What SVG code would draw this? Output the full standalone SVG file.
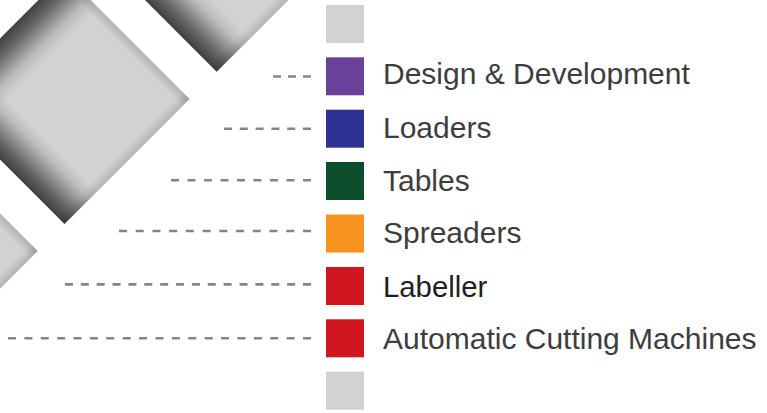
<svg xmlns="http://www.w3.org/2000/svg" width="767" height="413" viewBox="0 0 767 413">
  <style>
    .tile { fill: #d1d2d4; }
    .lbl { font-family: "Liberation Sans", Arial, sans-serif; font-size: 30px; fill: #3d3d3d; }
    .lbl.strong { font-size: 29.3px; fill: #1f1f1f; }
    .dash { stroke: #858585; stroke-width: 2.6; fill: none; }
    .sq { stroke: none; }
  </style>
  <defs>
    <linearGradient id="gx" x1="0" y1="0" x2="1" y2="0">
      <stop offset="0" stop-color="#000" stop-opacity="0.7"/>
      <stop offset="0.08" stop-color="#000" stop-opacity="0.5"/>
      <stop offset="0.2" stop-color="#000" stop-opacity="0.1"/>
      <stop offset="0.27" stop-color="#000" stop-opacity="0"/>
      <stop offset="0.94" stop-color="#000" stop-opacity="0"/>
      <stop offset="1" stop-color="#000" stop-opacity="0.15"/>
    </linearGradient>
    <linearGradient id="gy" x1="0" y1="1" x2="0" y2="0">
      <stop offset="0" stop-color="#000" stop-opacity="0.7"/>
      <stop offset="0.08" stop-color="#000" stop-opacity="0.5"/>
      <stop offset="0.2" stop-color="#000" stop-opacity="0.1"/>
      <stop offset="0.27" stop-color="#000" stop-opacity="0"/>
      <stop offset="0.94" stop-color="#000" stop-opacity="0"/>
      <stop offset="1" stop-color="#000" stop-opacity="0.15"/>
    </linearGradient>
    <g id="tile">
      <rect class="tile" x="-88.4" y="-88.4" width="176.8" height="176.8"/>
      <rect x="-88.4" y="-88.4" width="176.8" height="176.8" fill="url(#gx)"/>
      <rect x="-88.4" y="-88.4" width="176.8" height="176.8" fill="url(#gy)"/>
    </g>
  </defs>

  <g id="background-tiles">
    <use href="#tile" transform="translate(64.5,99) rotate(45)"/>
    <use href="#tile" transform="translate(216.7,-53.3) rotate(45)"/>
    <use href="#tile" transform="translate(-87.3,251) rotate(45)"/>
  </g>

  <g id="connectors">
    <line class="dash" x1="311" y1="76.5" x2="273" y2="76.5" stroke-dasharray="8 7"/>
    <line class="dash" x1="311" y1="128.7" x2="224" y2="128.7" stroke-dasharray="8 7.8"/>
    <line class="dash" x1="311" y1="180.3" x2="171" y2="180.3" stroke-dasharray="8 8.5"/>
    <line class="dash" x1="311" y1="231" x2="119" y2="231" stroke-dasharray="8 8.73"/>
    <line class="dash" x1="311" y1="284.4" x2="65" y2="284.4" stroke-dasharray="8 7.87"/>
    <line class="dash" x1="311" y1="338.3" x2="8" y2="338.3" stroke-dasharray="8 8.39"/>
  </g>

  <g id="cap-top"><rect class="sq" x="326" y="5" width="38" height="38" fill="#d1d2d4"/></g>

  <g id="design-development">
    <rect class="sq" x="326" y="57.3" width="38" height="38" fill="#6a4199"/>
    <text class="lbl" x="383" y="84.3">Design &amp; Development</text>
  </g>
  <g id="loaders">
    <rect class="sq" x="326" y="109.7" width="38" height="38" fill="#2e3192"/>
    <text class="lbl" x="383" y="137.5">Loaders</text>
  </g>
  <g id="tables">
    <rect class="sq" x="326" y="162" width="38" height="38" fill="#0c4d2b"/>
    <text class="lbl" x="383" y="190.5">Tables</text>
  </g>
  <g id="spreaders">
    <rect class="sq" x="326" y="214.5" width="38" height="38" fill="#f7931e"/>
    <text class="lbl" x="383" y="243.3">Spreaders</text>
  </g>
  <g id="labeller">
    <rect class="sq" x="326" y="267" width="38" height="38" fill="#cf161f"/>
    <text class="lbl strong" x="383" y="297">Labeller</text>
  </g>
  <g id="automatic-cutting">
    <rect class="sq" x="326" y="319.3" width="38" height="38" fill="#cf161f"/>
    <text class="lbl" x="383" y="349.3">Automatic Cutting Machines</text>
  </g>

  <g id="cap-bottom"><rect class="sq" x="326" y="371.7" width="38" height="38" fill="#d1d2d4"/></g>
</svg>
